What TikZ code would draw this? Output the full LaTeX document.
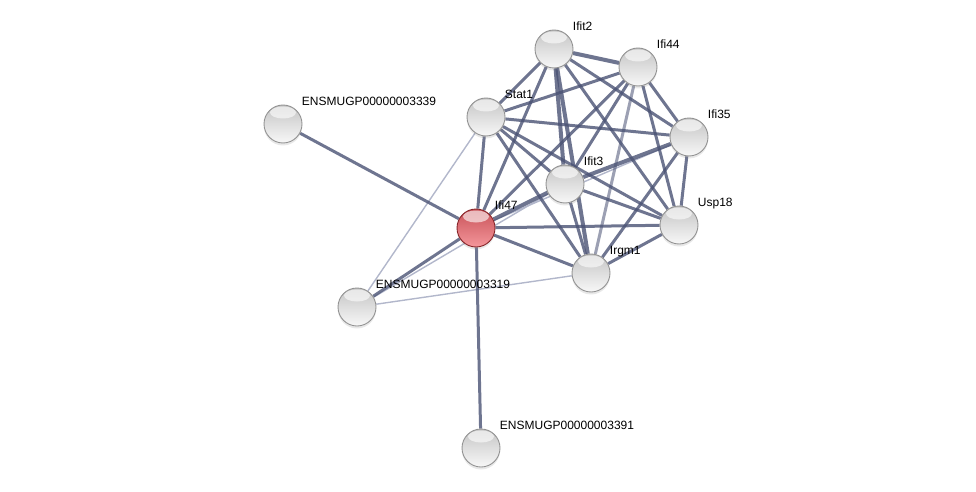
\documentclass[tikz,border=0pt]{standalone}
\usepackage{fontspec}
\setmainfont{Liberation Sans}
\usetikzlibrary{backgrounds,calc,shadows}
\definecolor{edgedark}{RGB}{74,82,116}
\definecolor{edgelight}{RGB}{178,183,203}
\definecolor{redtop}{RGB}{200,82,88}
\definecolor{redbot}{RGB}{244,150,155}
\definecolor{redrim}{RGB}{135,38,42}
\begin{document}
\begin{tikzpicture}[x=1pt,y=-1pt,
  prot/.style={circle,minimum size=38pt,inner sep=0pt,draw=gray!85,line width=0.9pt,
    top color=gray!46,bottom color=gray!6,
    drop shadow={opacity=0.18,shadow xshift=0pt,shadow yshift=-2.5pt},
    path picture={\fill[white,opacity=0.6]($(path picture bounding box.north)+(0,-7.5pt)$) ellipse(13pt and 6pt);}},
  query/.style={prot,draw=redrim,top color=redtop,bottom color=redbot},
  lbl/.style={font=\fontsize{12}{14}\selectfont,anchor=base west,inner sep=0pt,xshift=5pt,yshift=5pt},
  link/.style={draw=edgedark,line width=3pt,opacity=0.8},
  strong/.style={link,line width=4pt},
  weak/.style={draw=edgelight,line width=1.4pt}]
  \useasboundingbox(0,0)rectangle(976,492);
  % proteins
  \node[prot,label={[lbl]north east:Stat1}](St) at(486,117){};
  \node[prot,label={[lbl]north east:Ifit2}](It2) at(554,49){};
  \node[prot,label={[lbl]north east:Ifi44}](I44) at(638,67){};
  \node[prot,label={[lbl]north east:Ifi35}](I35) at(689,137){};
  \node[prot,label={[lbl]north east:Ifit3}](It3) at(565,184){};
  \node[query,label={[lbl]north east:Ifi47}](I47) at(476,228){};
  \node[prot,label={[lbl]north east:Usp18}](U18) at(679,225){};
  \node[prot,label={[lbl]north east:Irgm1}](Ir) at(591,273){};
  \node[prot,label={[lbl]north east:ENSMUGP00000003339}](E39) at(283,124){};
  \node[prot,label={[lbl]north east:ENSMUGP00000003319}](E19) at(357,307){};
  \node[prot,label={[lbl]north east:ENSMUGP00000003391}](E91) at(481,448){};
  % interactions
  \begin{scope}[on background layer]
    \draw[weak](E19)--(St);
    \draw[weak](E19)--(Ir);
    \draw[weak](E19)--(It3);
    \draw[weak](I47)--(I35);
    \draw[link](E39)--(I47);
    \draw[link](E19)--(I47);
    \draw[link](E91)--(I47);
    \draw[link](St)--(It2);
    \draw[link](St)--(I44);
    \draw[link](St)--(I35);
    \draw[link](St)--(It3);
    \draw[link](St)--(I47);
    \draw[link](St)--(U18);
    \draw[link](St)--(Ir);
    \draw[strong](It2)--(I44);
    \draw[link](It2)--(I35);
    \draw[strong](It2)--(It3);
    \draw[link](It2)--(I47);
    \draw[link](It2)--(U18);
    \draw[strong](It2)--(Ir);
    \draw[link](I44)--(I35);
    \draw[link](I44)--(It3);
    \draw[link](I44)--(I47);
    \draw[link](I44)--(U18);
    \draw[link,opacity=0.55](I44)--(Ir);
    \draw[strong](I35)--(It3);
    \draw[link](I35)--(U18);
    \draw[link](I35)--(Ir);
    \draw[strong](It3)--(I47);
    \draw[link](It3)--(U18);
    \draw[link](It3)--(Ir);
    \draw[link](I47)--(U18);
    \draw[link](I47)--(Ir);
    \draw[link](U18)--(Ir);
  \end{scope}
\end{tikzpicture}
\end{document}
